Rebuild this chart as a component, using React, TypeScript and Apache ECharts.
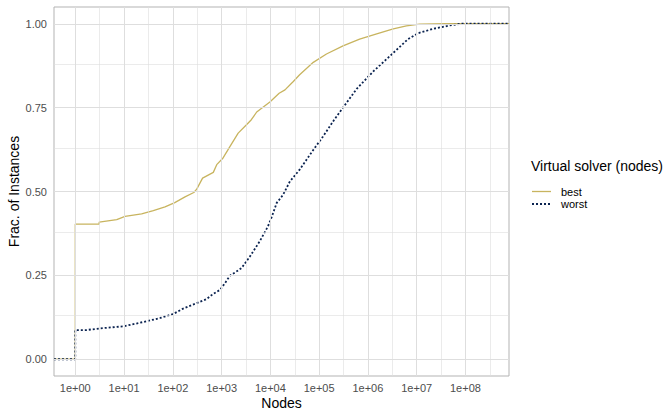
import React, { useEffect, useRef } from "react";
import * as echarts from "echarts";

// x values are log10(number of nodes)
const xMinLog = -0.4365;
const xMaxLog = 8.893;
const xTickLogs = [0, 1, 2, 3, 4, 5, 6, 7, 8];
const xMinorLogs = [0.5, 1.5, 2.5, 3.5, 4.5, 5.5, 6.5, 7.5, 8.5];
const yMin = -0.05;
const yMax = 1.05;
const yTicks = [0, 0.25, 0.5, 0.75, 1];
const yMinor = [0.125, 0.375, 0.625, 0.875];

const seriesNames = ["best", "worst"];
const legendTitle = "Virtual solver (nodes)";

const bestLogNodes = [
  xMinLog, 0, 0, 0.49, 0.49, 0.85, 1.02, 1.36, 1.6, 1.84, 2.04, 2.25, 2.43, 2.49, 2.61,
  2.83, 2.9, 3.03, 3.17, 3.34, 3.51, 3.61, 3.72, 3.99, 4.18, 4.3, 4.47, 4.6, 4.88,
  5.15, 5.49, 5.83, 6.18, 6.52, 6.79, 7.06, 7.6, xMaxLog,
];
const bestFrac = [
  0, 0, 0.403, 0.403, 0.409, 0.416, 0.426, 0.433, 0.443, 0.454, 0.467, 0.484, 0.497, 0.507, 0.54,
  0.557, 0.58, 0.6, 0.634, 0.674, 0.699, 0.714, 0.737, 0.767, 0.793, 0.803, 0.828, 0.848, 0.885,
  0.91, 0.934, 0.954, 0.97, 0.985, 0.994, 0.999, 1.0, 1.0,
];

const worstLogNodes = [
  xMinLog, 0, 0, 0.23, 0.51, 0.98, 1.46, 1.74, 2.01, 2.2, 2.35, 2.69, 2.83, 2.97, 3.07,
  3.17, 3.31, 3.41, 3.58, 3.78, 3.95, 4.02, 4.13, 4.26, 4.4, 4.6, 4.88, 5.08, 5.3,
  5.46, 5.77, 6.11, 6.52, 6.82, 7.03, 7.34, 7.68, 7.9, xMaxLog,
];
const worstFrac = [
  0, 0, 0.087, 0.087, 0.092, 0.098, 0.113, 0.123, 0.135, 0.15, 0.159, 0.179, 0.195, 0.207, 0.227,
  0.249, 0.262, 0.272, 0.306, 0.351, 0.396, 0.421, 0.466, 0.49, 0.53, 0.565, 0.624, 0.664, 0.712,
  0.744, 0.806, 0.858, 0.913, 0.954, 0.972, 0.985, 0.995, 1.0, 1.0,
];

const FONT = "Liberation Sans, Arial, Helvetica, sans-serif";
const GOLD = "#c8b45f";
const NAVY = "#0b2350";
const GRID = "#dedede";
const BORDER = "#b3b3b3";
const NAVY_DASH = [2, 2];

const zip = (xs: number[], ys: number[]) => xs.map((x, i) => [x, ys[i]]);

export default function App() {
  const ref = useRef<HTMLDivElement>(null);
  useEffect(() => {
    if (!ref.current) return;
    const chart = echarts.init(ref.current, undefined, { renderer: "svg" });
    const gridLines = [
      ...xTickLogs.map((v) => ({ xAxis: v, lineStyle: { width: 1 } })),
      ...xMinorLogs.map((v) => ({ xAxis: v, lineStyle: { width: 0.6 } })),
      ...yTicks.map((v) => ({ yAxis: v, lineStyle: { width: 1 } })),
      ...yMinor.map((v) => ({ yAxis: v, lineStyle: { width: 0.6 } })),
    ];
    const keyX = 532;
    const keyW = 19;
    const keyY = [191.5, 204];
    chart.setOption({
      animation: false,
      backgroundColor: "#ffffff",
      textStyle: { fontFamily: FONT },
      title: {
        text: legendTitle,
        left: 531,
        top: 159,
        padding: 0,
        textStyle: { fontSize: 14, fontWeight: "normal", color: "#000", fontFamily: FONT },
      },
      graphic: [
        {
          type: "line",
          shape: { x1: keyX, y1: keyY[0], x2: keyX + keyW, y2: keyY[0] },
          style: { stroke: GOLD, lineWidth: 1.3 },
          silent: true,
        },
        {
          type: "line",
          shape: { x1: keyX, y1: keyY[1], x2: keyX + keyW, y2: keyY[1] },
          style: { stroke: NAVY, lineWidth: 1.8, lineDash: NAVY_DASH, lineCap: "butt" },
          silent: true,
        },
        {
          type: "text",
          x: 561,
          y: keyY[0],
          style: { text: seriesNames[0], fill: "#000", font: `11px ${FONT}`, textVerticalAlign: "middle", verticalAlign: "middle" },
          silent: true,
        },
        {
          type: "text",
          x: 561,
          y: keyY[1],
          style: { text: seriesNames[1], fill: "#000", font: `11px ${FONT}`, textVerticalAlign: "middle", verticalAlign: "middle" },
          silent: true,
        },
      ],
      grid: {
        left: 54,
        right: 158,
        top: 7,
        bottom: 37,
        show: true,
        borderColor: BORDER,
        borderWidth: 1,
        backgroundColor: "transparent",
        containLabel: false,
        outerBoundsMode: "none",
      },
      xAxis: {
        type: "value",
        min: xMinLog,
        max: xMaxLog,
        name: "Nodes",
        nameLocation: "middle",
        nameGap: 19.5,
        nameMoveOverlap: false,
        nameTextStyle: { fontSize: 14, color: "#000", fontFamily: FONT },
        axisLine: { show: false },
        splitLine: { show: false },
        axisTick: { show: true, length: 4, customValues: xTickLogs, lineStyle: { color: BORDER, width: 1 } },
        axisLabel: {
          customValues: xTickLogs,
          margin: 6,
          fontSize: 11,
          color: "#4d4d4d",
          fontFamily: FONT,
          formatter: (v: number) => "1e+" + String(Math.round(v)).padStart(2, "0"),
        },
      },
      yAxis: {
        type: "value",
        min: yMin,
        max: yMax,
        name: "Frac. of Instances",
        nameLocation: "middle",
        nameGap: 33,
        nameRotate: 90,
        nameMoveOverlap: false,
        nameTextStyle: { fontSize: 14, color: "#000", fontFamily: FONT },
        axisLine: { show: false },
        splitLine: { show: false },
        axisTick: { show: true, length: 4, customValues: yTicks, lineStyle: { color: BORDER, width: 1 } },
        axisLabel: {
          customValues: yTicks,
          margin: 7,
          fontSize: 11,
          color: "#4d4d4d",
          fontFamily: FONT,
          formatter: (v: number) => v.toFixed(2),
        },
      },
      series: [
        {
          name: "_grid",
          type: "line",
          data: [],
          z: 1,
          silent: true,
          markLine: {
            silent: true,
            symbol: "none",
            label: { show: false },
            lineStyle: { color: GRID, type: "solid" },
            emphasis: { disabled: true },
            data: gridLines,
          },
        },
        {
          name: seriesNames[0],
          type: "line",
          data: zip(bestLogNodes, bestFrac),
          showSymbol: false,
          symbol: "none",
          z: 3,
          lineStyle: { color: GOLD, width: 1.3 },
          itemStyle: { color: GOLD },
        },
        {
          name: seriesNames[1],
          type: "line",
          data: zip(worstLogNodes, worstFrac),
          showSymbol: false,
          symbol: "none",
          z: 4,
          lineStyle: { color: NAVY, width: 1.8, type: NAVY_DASH, cap: "butt" },
          itemStyle: { color: NAVY },
        },
      ],
    });
    return () => chart.dispose();
  }, []);
  return (
    <div
      ref={ref}
      style={{ position: "absolute", left: 0, top: 0, width: 667, height: 413, background: "#fff" }}
    />
  );
}
